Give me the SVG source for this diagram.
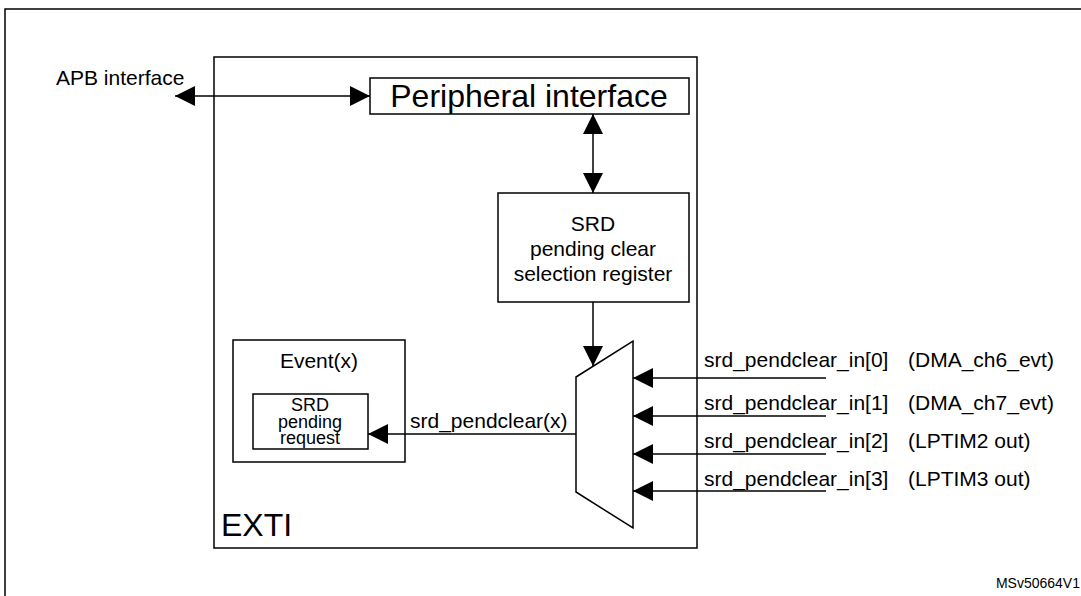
<svg xmlns="http://www.w3.org/2000/svg" width="1081" height="596" viewBox="0 0 1081 596">
<style>
.b{fill:#fff;stroke:#000;stroke-width:1.5}
.l{stroke:#000;stroke-width:1.5;fill:none}
text{font-family:"Liberation Sans",Arial,sans-serif;fill:#000}
.s{font-size:21px}
.t{font-size:18px}
</style>
<defs>
<marker id="a" viewBox="0 0 10 10" refX="10" refY="5" markerWidth="26" markerHeight="20" markerUnits="userSpaceOnUse" orient="auto-start-reverse"><path d="M0,0L10,5L0,10z" fill="#000"/></marker>
</defs>
<rect x="0" y="0" width="1081" height="596" fill="#fff"/>
<rect x="5" y="9" width="1090" height="600" class="b"/>
<g id="exti"><rect x="214" y="57" width="483" height="491" class="b"/><text x="221" y="536" font-size="32">EXTI</text></g>
<g id="periph"><rect x="370" y="78" width="319" height="36" class="b"/><text x="529" y="107" font-size="32" text-anchor="middle">Peripheral interface</text></g>
<g id="reg"><rect x="498" y="193" width="191" height="109" class="b"/>
<text class="s" text-anchor="middle" x="593" y="231">SRD</text><text class="s" text-anchor="middle" x="593" y="256">pending clear</text><text class="s" text-anchor="middle" x="593" y="281">selection register</text></g>
<g id="event"><rect x="233" y="340" width="172" height="122" class="b"/><text class="s" x="319" y="368" text-anchor="middle">Event(x)</text>
<rect x="253" y="394" width="115" height="55" class="b"/><text class="t" text-anchor="middle" x="310" y="411">SRD</text><text class="t" text-anchor="middle" x="310" y="428">pending</text><text class="t" text-anchor="middle" x="310" y="444">request</text></g>
<g id="mux"><path d="M576,377L633,341L633,528L576,492z" class="b"/></g>
<g id="connectors">
<line x1="175" y1="96" x2="370" y2="96" class="l" marker-start="url(#a)" marker-end="url(#a)"/>
<line x1="593" y1="114" x2="593" y2="193" class="l" marker-start="url(#a)" marker-end="url(#a)"/>
<line x1="593" y1="302" x2="593" y2="366" class="l" marker-end="url(#a)"/>
<line x1="576" y1="434" x2="368" y2="434" class="l" marker-end="url(#a)"/>
<line x1="826" y1="378" x2="633" y2="378" class="l" marker-end="url(#a)"/>
<line x1="826" y1="416" x2="633" y2="416" class="l" marker-end="url(#a)"/>
<line x1="826" y1="454" x2="633" y2="454" class="l" marker-end="url(#a)"/>
<line x1="826" y1="491" x2="633" y2="491" class="l" marker-end="url(#a)"/>
</g>
<g id="labels">
<text class="s" x="56" y="85">APB interface</text>
<text class="s" x="410" y="428">srd_pendclear(x)</text>
<text class="s" x="704" y="367">srd_pendclear_in[0]</text><text class="s" x="908" y="367">(DMA_ch6_evt)</text>
<text class="s" x="704" y="410">srd_pendclear_in[1]</text><text class="s" x="908" y="410">(DMA_ch7_evt)</text>
<text class="s" x="704" y="448">srd_pendclear_in[2]</text><text class="s" x="908" y="448">(LPTIM2 out)</text>
<text class="s" x="704" y="486">srd_pendclear_in[3]</text><text class="s" x="908" y="486">(LPTIM3 out)</text>
<text x="1080" y="588" font-size="14" text-anchor="end">MSv50664V1</text>
</g>
</svg>
